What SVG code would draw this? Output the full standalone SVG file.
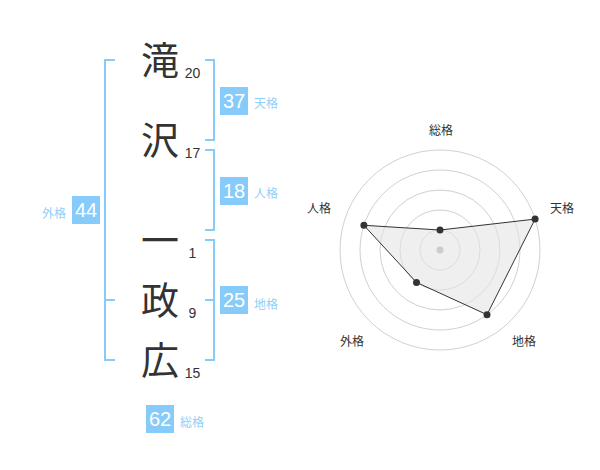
<svg xmlns="http://www.w3.org/2000/svg" width="600" height="470" viewBox="0 0 600 470">
<style>
.ch{font-family:"Noto Sans CJK JP","Noto Sans CJK SC",sans-serif;font-size:38px;fill:#333;text-anchor:middle}
.num{font-family:"Liberation Sans",Arial,sans-serif;font-size:14px;fill:#333;text-anchor:middle}
.box{fill:#86cbf9}
.bnum{font-family:"Liberation Sans",Arial,sans-serif;font-size:20px;fill:#fff;text-anchor:middle}
.lbl{font-family:"Noto Sans CJK JP","Noto Sans CJK SC",sans-serif;font-size:12px;fill:#8fd0f8}
.br{fill:none;stroke:#86cbf9;stroke-width:2}
.ring{fill:none;stroke:#d0d0d0;stroke-width:1}
.rl{font-family:"Noto Sans CJK JP","Noto Sans CJK SC",sans-serif;font-size:12px;fill:#333;text-anchor:middle}
.pt{fill:#333}
</style>
<rect width="600" height="470" fill="#fff"/>
<g id="connectors">
<path class="br" d="M115,60 H105 V360 H115 M105,300 H115"/>
<path class="br" d="M205,60 H214 V140 H205"/>
<path class="br" d="M205,150 H214 V230 H205"/>
<path class="br" d="M205,240 H214 V360 H205 M205,300 H214"/>
</g>
<g id="name">
<g id="c1"><text class="ch" x="160" y="74">滝</text><text class="num" x="192.5" y="78">20</text></g>
<g id="c2"><text class="ch" x="160" y="154">沢</text><text class="num" x="192.5" y="158">17</text></g>
<g id="c3"><text class="ch" x="160" y="254">一</text><text class="num" x="192.5" y="258">1</text></g>
<g id="c4"><text class="ch" x="160" y="314">政</text><text class="num" x="192.5" y="318">9</text></g>
<g id="c5"><text class="ch" x="160" y="374">広</text><text class="num" x="192.5" y="378">15</text></g>
</g>
<g id="tenkaku"><rect class="box" x="220" y="87" width="28" height="28"/><text class="bnum" x="234" y="108">37</text><text class="lbl" x="254" y="108">天格</text></g>
<g id="jinkaku"><rect class="box" x="220" y="177" width="28" height="28"/><text class="bnum" x="234" y="198">18</text><text class="lbl" x="254" y="198">人格</text></g>
<g id="chikaku"><rect class="box" x="220" y="286" width="28" height="28"/><text class="bnum" x="234" y="307">25</text><text class="lbl" x="254" y="309">地格</text></g>
<g id="gaikaku"><rect class="box" x="72" y="196" width="28" height="28"/><text class="bnum" x="86" y="217">44</text><text class="lbl" x="66" y="218" text-anchor="end">外格</text></g>
<g id="soukaku"><rect class="box" x="146" y="405" width="28" height="28"/><text class="bnum" x="160" y="426">62</text><text class="lbl" x="180" y="427">総格</text></g>
<g id="radar">
<circle class="ring" cx="440" cy="250" r="20"/>
<circle class="ring" cx="440" cy="250" r="40"/>
<circle class="ring" cx="440" cy="250" r="60"/>
<circle class="ring" cx="440" cy="250" r="80"/>
<circle class="ring" cx="440" cy="250" r="100"/>
<polygon points="440,230 535.1,219.1 487,314.7 416.5,282.4 363.9,225.3" fill="#e4e4e4" fill-opacity="0.6" stroke="#333" stroke-width="1"/>
<circle cx="440" cy="250" r="3.5" fill="#ccc"/>
<circle class="pt" cx="440" cy="230" r="3.5"/>
<circle class="pt" cx="535.1" cy="219.1" r="3.5"/>
<circle class="pt" cx="487" cy="314.7" r="3.5"/>
<circle class="pt" cx="416.5" cy="282.4" r="3.5"/>
<circle class="pt" cx="363.9" cy="225.3" r="3.5"/>
<text class="rl" x="441" y="135">総格</text>
<text class="rl" x="562" y="213">天格</text>
<text class="rl" x="524" y="346">地格</text>
<text class="rl" x="352" y="346">外格</text>
<text class="rl" x="319" y="213">人格</text>
</g>
</svg>
